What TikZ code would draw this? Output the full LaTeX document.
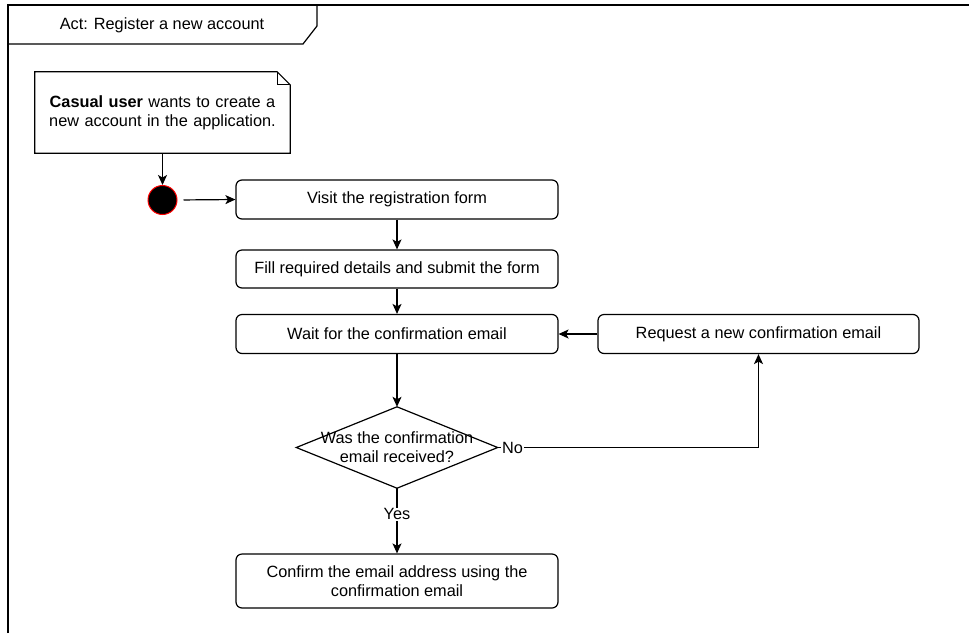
\documentclass[tikz,border=0pt]{standalone}
\usepackage{fontspec}
\setmainfont{Liberation Sans}
\usetikzlibrary{arrows.meta}

\tikzset{
  base/.style={line width=1.2pt, draw=black},
  txt/.style={font=\fontsize{16.3}{19}\selectfont, text=black, align=center},
  action/.style={base, txt, rectangle, rounded corners=6pt, inner sep=0pt,
                 minimum width=322pt, minimum height=39pt},
  flow/.style={line width=1.2pt, draw=black, -{Stealth[length=10pt, width=9pt, inset=2.5pt]}},
  edgelabel/.style={txt, fill=white, inner sep=1pt},
}

\begin{document}
\begin{tikzpicture}[x=1pt, y=-1pt]
  \useasboundingbox (0,0) rectangle (969,633);

  % activity frame and its name tab
  \draw[base] (8,633) -- (8,5) -- (969,5);
  \draw[base] (8,44) -- (303,44) -- (317,26) -- (317,5);
  \node[txt] (title) at (162,25) {Act: Register a new account};

  % comment note with folded corner
  \node[txt, text width=245pt, minimum width=255pt, minimum height=81pt, inner sep=0pt]
    (note) at (162.5,112.5) {\textbf{Casual user} wants to create a new account in the application.};
  \draw[base] (note.north west) -- ([xshift=-13pt]note.north east)
    -- ([yshift=-13pt]note.north east) -- (note.south east) -- (note.south west) -- cycle;
  \draw[base] ([xshift=-13pt]note.north east) -- ([xshift=-13pt,yshift=-13pt]note.north east)
    -- ([yshift=-13pt]note.north east);

  % initial state
  \node[circle, fill=black, draw=red, line width=1pt, minimum size=29pt, inner sep=0pt]
    (start) at (162.5,200) {};

  % actions
  \node[action] (visit)   at (397,199.5) {Visit the registration form};
  \node[action, minimum height=38pt] (fill) at (397,269) {Fill required details and submit the form};
  \node[action] (wait)    at (397,334) {Wait for the confirmation email};
  \node[action, minimum width=321pt] (request) at (758.5,334) {Request a new confirmation email};
  \node[action, minimum height=54pt] (confirm) at (397,581)
    {Confirm the email address using the\\confirmation email};

  % decision
  \node[txt, minimum width=201pt, minimum height=81pt, inner sep=0pt]
    (dec) at (397,447.5) {Was the confirmation\\email received?};
  \draw[base] (dec.north) -- (dec.east) -- (dec.south) -- (dec.west) -- cycle;
  \coordinate (nocorner) at (request.south |- dec.east);

  % control flow
  \draw[flow] (note.south) -- (start.north);
  \draw[flow, shorten <=6pt] (start.east) -- (visit.west);
  \draw[flow] (visit.south) -- (fill.north);
  \draw[flow] (fill.south) -- (wait.north);
  \draw[flow] (wait.south) -- (dec.north);
  \draw[flow] (request.west) -- (wait.east);
  \draw[line width=1.2pt] (dec.east) -- node[edgelabel, pos=0.057] {No} (nocorner);
  \draw[flow] (nocorner) -- (request.south);
  \draw[flow] (dec.south) -- node[edgelabel, pos=0.4] {Yes} (confirm.north);
\end{tikzpicture}
\end{document}
